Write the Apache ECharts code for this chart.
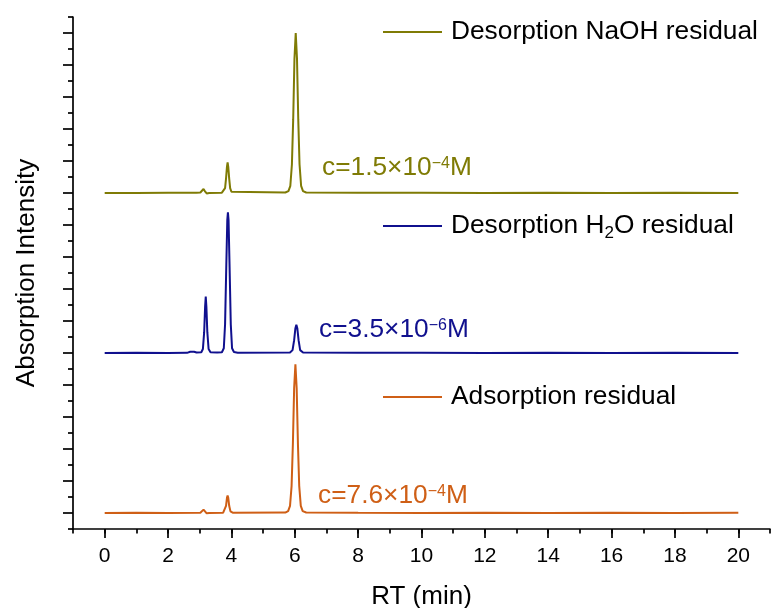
<!DOCTYPE html>
<html>
<head>
<meta charset="utf-8">
<script src="https://cdn.jsdelivr.net/npm/echarts@6/dist/echarts.min.js"></script>
<style>
  html, body { margin: 0; padding: 0; background: #fff; }
  #chart { width: 771px; height: 608px; }
</style>
</head>
<body>
<div id="chart"></div>
<script>
const FONT = '"Liberation Sans", Arial, Helvetica, sans-serif';

// Retention-time tick labels (min)
const rtTicks = [0, 2, 4, 6, 8, 10, 12, 14, 16, 18, 20];

// Trace names, colours and concentrations
const seriesNames = ['Desorption NaOH residual', 'Desorption H2O residual', 'Adsorption residual'];
const seriesColors = ['#7f7b05', '#10108e', '#cf5f16'];
const concMantissa = ['1.5', '3.5', '7.6'];
const concExponent = ['\u22124', '\u22126', '\u22124'];

// Baseline of each trace on the stacked intensity axis
const traceOffsets = [21, 11, 1];

// Desorption NaOH residual chromatogram
const rtNaOH = [0, 1.0, 2.0, 2.9, 3.02, 3.08, 3.12, 3.16, 3.22, 3.3, 3.7, 3.76, 3.80, 3.83, 3.86, 3.88, 3.90, 3.93, 3.96, 4.0, 4.06,
  5.7, 5.8, 5.86, 5.91, 5.95, 5.99, 6.03, 6.07, 6.11, 6.15, 6.20, 6.26, 6.36, 8, 10, 12, 14, 16, 18, 20];
const intNaOH = [0, 0, 0.01, 0.02, 0.03, 0.12, 0.25, 0.12, -0.03, 0, 0.02, 0.06, 0.3, 0.9, 1.65, 1.91, 1.65, 0.9, 0.3, 0.08, 0.03,
  0.03, 0.12, 0.45, 1.8, 4.6, 8.4, 10.0, 8.4, 4.6, 1.8, 0.45, 0.12, 0.03, 0.01, 0.02, 0, 0.01, 0, 0.01, 0];

// Desorption H2O residual chromatogram
const rtH2O = [0, 1, 2, 2.6, 2.7, 2.76, 2.82, 2.9, 3.05, 3.1, 3.14, 3.17, 3.19, 3.21, 3.24, 3.28, 3.34, 3.55,
  3.7, 3.76, 3.80, 3.84, 3.87, 3.89, 3.91, 3.94, 3.98, 4.02, 4.08, 4.2,
  5.85, 5.93, 5.98, 6.02, 6.05, 6.08, 6.12, 6.17, 6.26, 8, 10, 12, 14, 16, 18, 20];
const intH2O = [0, 0.01, 0, 0.01, 0.08, 0.17, 0.08, 0.03, 0.05, 0.25, 1.3, 2.9, 3.52, 2.9, 1.3, 0.25, 0.05, 0.03,
  0.05, 0.3, 1.8, 5.6, 8.3, 8.79, 8.3, 5.6, 1.8, 0.3, 0.06, 0.02,
  0.03, 0.18, 0.8, 1.55, 1.77, 1.55, 0.8, 0.18, 0.03, 0.01, 0.01, 0, 0.01, 0, 0.01, 0];

// Adsorption residual chromatogram
const rtAds = [0, 1, 2, 3.02, 3.08, 3.12, 3.16, 3.22, 3.3, 3.74, 3.79, 3.83, 3.86, 3.88, 3.90, 3.93, 3.97, 4.04,
  5.7, 5.79, 5.85, 5.9, 5.94, 5.98, 6.02, 6.06, 6.10, 6.14, 6.19, 6.25, 6.36, 8, 10, 12, 14, 16, 18, 20];
const intAds = [0, 0.01, 0, 0.02, 0.1, 0.21, 0.1, -0.02, 0, 0.02, 0.1, 0.45, 0.95, 1.1, 0.95, 0.45, 0.1, 0.02,
  0.03, 0.12, 0.45, 1.7, 4.3, 7.8, 9.3, 7.8, 4.3, 1.7, 0.45, 0.12, 0.03, 0.01, 0, 0.01, 0, 0.01, 0, 0.01];

const traces = [
  { rt: rtNaOH, intensity: intNaOH },
  { rt: rtH2O, intensity: intH2O },
  { rt: rtAds, intensity: intAds }
];

const axisStroke = { color: '#000', width: 1.7 };

const series = traces.map((t, i) => ({
  name: seriesNames[i],
  type: 'line',
  symbol: 'none',
  showSymbol: false,
  smooth: false,
  data: t.rt.map((x, j) => [x, traceOffsets[i] + t.intensity[j]]),
  lineStyle: { color: seriesColors[i], width: 2 },
  itemStyle: { color: seriesColors[i] },
  z: 3
}));

// Legend entries are placed one per trace, above each chromatogram
const legendTops = [19, 213, 384];
const legend = seriesNames.map((n, i) => ({
  data: [n],
  left: 383,
  top: legendTops[i],
  padding: 0,
  itemWidth: 59,
  itemHeight: 2,
  icon: 'rect',
  selectedMode: false,
  formatter: name => name.replace('H2O', 'H{sub|2}O'),
  textStyle: {
    fontSize: 26.3,
    color: '#000',
    fontFamily: FONT,
    padding: [0, 0, 0, 4],
    rich: {
      sub: { fontSize: 17, color: '#000', fontFamily: FONT, padding: [14, 0, 0, 0] }
    }
  }
}));

// Concentration annotations beside each trace
const annX = [322, 319, 318];
const annY = [168, 330, 496];
const graphic = concMantissa.map((m, i) => ({
  type: 'text',
  x: annX[i],
  y: annY[i],
  z: 10,
  style: {
    text: '{m|c=' + m + '\u00d710}{e|' + concExponent[i] + '}{m|M}',
    align: 'left',
    verticalAlign: 'middle',
    rich: {
      m: { fontSize: 26.3, fontFamily: FONT, fill: seriesColors[i] },
      e: { fontSize: 16, fontFamily: FONT, fill: seriesColors[i], padding: [0, 0, 8, 0] }
    }
  }
}));

const chart = echarts.init(document.getElementById('chart'), null, { renderer: 'canvas' });
chart.setOption({
  animation: false,
  backgroundColor: '#fff',
  grid: { left: 73, right: 1, top: 17, bottom: 79, containLabel: false, outerBoundsMode: 'none' },
  xAxis: [
    {
      type: 'value', min: -1, max: 21, interval: 1,
      name: 'RT (min)', nameLocation: 'middle', nameGap: 55,
      nameTextStyle: { fontSize: 26, color: '#000', fontFamily: FONT },
      axisLine: { show: true, onZero: false, lineStyle: axisStroke },
      axisTick: { show: true, length: 4.5, lineStyle: axisStroke },
      axisLabel: {
        fontSize: 21, color: '#000', margin: 17, fontFamily: FONT,
        formatter: v => (rtTicks.indexOf(v) >= 0 ? String(v) : '')
      },
      splitLine: { show: false }
    },
    {
      type: 'value', min: -1, max: 21, position: 'bottom', gridIndex: 0,
      axisLine: { show: false },
      axisLabel: { show: false },
      splitLine: { show: false },
      axisTick: { show: true, length: 9, customValues: rtTicks, lineStyle: axisStroke }
    }
  ],
  yAxis: {
    type: 'value', min: 0, max: 32, interval: 2,
    name: 'Absorption Intensity', nameLocation: 'middle', nameGap: 33,
    nameTextStyle: { fontSize: 26, color: '#000', fontFamily: FONT },
    axisLine: { show: true, onZero: false, lineStyle: axisStroke },
    axisTick: { show: true, length: 5, lineStyle: axisStroke },
    minorTick: { show: true, splitNumber: 2, length: 10, lineStyle: axisStroke },
    axisLabel: { show: false },
    splitLine: { show: false },
    minorSplitLine: { show: false }
  },
  legend: legend,
  graphic: graphic,
  series: series
});
</script>
</body>
</html>
